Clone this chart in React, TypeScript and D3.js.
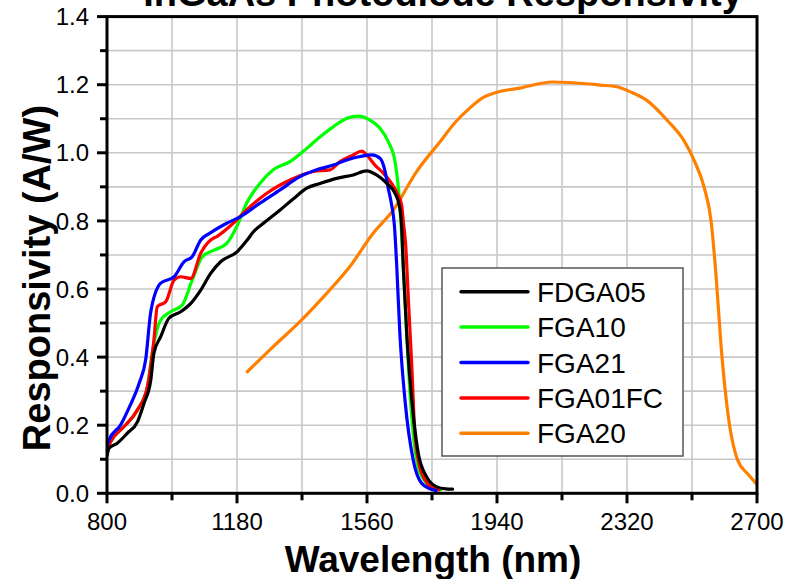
import React from "react";
import * as d3 from "d3";

const W = 802;
const H = 579;

const titleText = "InGaAs Photodiode Responsivity";
const xLabel = "Wavelength (nm)";
const yLabel = "Responsivity (A/W)";

const xTickValues = [800, 1180, 1560, 1940, 2320, 2700];
const yTickValues = [0, 0.2, 0.4, 0.6, 0.8, 1.0, 1.2, 1.4];

const seriesNames = ["FDGA05", "FGA10", "FGA21", "FGA01FC", "FGA20"];
const seriesColors = ["#000000", "#00ff00", "#0000ff", "#ff0000", "#ff8000"];

type P = [number, number];

const fdga05: P[] = [
  [800, 0.11], [806, 0.132], [830, 0.147], [859, 0.176], [889, 0.21], [908, 0.264],
  [928, 0.333], [937, 0.411], [957, 0.46], [981, 0.514], [1015, 0.533], [1045, 0.558],
  [1074, 0.597], [1103, 0.646], [1132, 0.68], [1181, 0.71], [1210, 0.744], [1228, 0.768],
  [1260, 0.795], [1306, 0.832], [1345, 0.865], [1384, 0.896], [1423, 0.91], [1471, 0.925],
  [1520, 0.935], [1559, 0.947], [1588, 0.935], [1618, 0.91], [1642, 0.881], [1654, 0.847],
  [1661, 0.788], [1666, 0.666], [1676, 0.47], [1691, 0.274], [1710, 0.117], [1734, 0.049],
  [1764, 0.019], [1790, 0.013], [1810, 0.012],
];

const fga10: P[] = [
  [803, 0.135], [811, 0.152], [850, 0.196], [889, 0.245], [918, 0.313], [932, 0.411],
  [957, 0.509], [986, 0.533], [1020, 0.553], [1049, 0.626], [1079, 0.695], [1113, 0.714],
  [1150, 0.734], [1179, 0.783], [1208, 0.852], [1247, 0.91], [1286, 0.95], [1335, 0.974],
  [1384, 1.013], [1423, 1.047], [1462, 1.077], [1500, 1.101], [1535, 1.108], [1569, 1.096],
  [1598, 1.072], [1622, 1.033], [1642, 0.974], [1651, 0.905], [1656, 0.847], [1661, 0.764],
  [1671, 0.568], [1681, 0.372], [1695, 0.176], [1715, 0.059], [1754, 0.015], [1776, 0.01],
];

const fga21: P[] = [
  [802, 0.145], [806, 0.157], [840, 0.201], [864, 0.25], [894, 0.323], [913, 0.392],
  [928, 0.533], [957, 0.617], [996, 0.636], [1025, 0.68], [1049, 0.695], [1074, 0.744],
  [1101, 0.764], [1150, 0.793], [1189, 0.812], [1247, 0.852], [1306, 0.891], [1364, 0.93],
  [1413, 0.95], [1462, 0.964], [1501, 0.979], [1540, 0.989], [1574, 0.994], [1598, 0.984],
  [1613, 0.945], [1622, 0.896], [1632, 0.847], [1640, 0.788], [1647, 0.666], [1656, 0.47],
  [1671, 0.274], [1695, 0.098], [1720, 0.029], [1754, 0.01], [1762, 0.008],
];

const fga01fc: P[] = [
  [803, 0.135], [811, 0.152], [850, 0.196], [889, 0.245], [918, 0.313], [937, 0.45],
  [947, 0.548], [972, 0.563], [996, 0.626], [1015, 0.636], [1045, 0.631], [1074, 0.705],
  [1103, 0.744], [1121, 0.754], [1169, 0.793], [1208, 0.832], [1267, 0.881], [1335, 0.92],
  [1403, 0.945], [1452, 0.95], [1481, 0.974], [1520, 0.994], [1544, 1.005], [1559, 0.994],
  [1583, 0.964], [1608, 0.94], [1632, 0.91], [1651, 0.876], [1661, 0.847], [1667, 0.79],
  [1673, 0.73], [1681, 0.568], [1691, 0.372], [1700, 0.176], [1720, 0.059], [1754, 0.015],
  [1770, 0.01],
];

const fga20: P[] = [
  [1210, 0.357], [1286, 0.431], [1364, 0.504], [1442, 0.587], [1510, 0.666], [1578, 0.764],
  [1637, 0.832], [1705, 0.945], [1773, 1.032], [1820, 1.092], [1861, 1.132], [1899, 1.162],
  [1940, 1.178], [2007, 1.19], [2101, 1.208], [2212, 1.202], [2241, 1.199], [2290, 1.194],
  [2330, 1.179], [2378, 1.154], [2438, 1.095], [2487, 1.035], [2517, 0.976], [2546, 0.897],
  [2566, 0.798], [2581, 0.63], [2595, 0.432], [2615, 0.234], [2644, 0.096], [2674, 0.056],
  [2700, 0.026],
];

const seriesData: P[][] = [fdga05, fga10, fga21, fga01fc, fga20];
const drawOrder = [4, 1, 3, 2, 0];

const FONT = "'Liberation Sans', Arial, sans-serif";

export default function App() {
  const left = 107, right = 757, top = 16.6, bottom = 493.3;
  const x = d3.scaleLinear().domain([800, 2700]).range([left, right]);
  const y = d3.scaleLinear().domain([0, 1.4]).range([bottom, top]);

  const xGrid = d3.range(800, 2701, 190);
  const yGrid = d3.range(0, 1.401, 0.1);

  const line = d3
    .line<P>()
    .x((d) => x(d[0]))
    .y((d) => y(d[1]))
    .curve(d3.curveMonotoneX);

  const fmt = d3.format(".1f");

  const legX = 442, legY = 268, legW = 241, legH = 188;
  const rowY0 = 291.7, rowStep = 35.4;

  return (
    <svg
      width={W}
      height={H}
      viewBox={`0 0 ${W} ${H}`}
      style={{ position: "absolute", left: 0, top: 0, background: "#fff" }}
      fontFamily={FONT}
    >
      <defs>
        <clipPath id="plotClip">
          <rect x={left} y={top} width={right - left} height={bottom - top} />
        </clipPath>
      </defs>
      <rect x={0} y={0} width={W} height={H} fill="#fff" />

      {/* grid */}
      <g stroke="#c8c8c8" strokeWidth={1.6}>
        {xGrid.map((v) => (
          <line key={"gx" + v} x1={x(v)} x2={x(v)} y1={top} y2={bottom} />
        ))}
        {yGrid.map((v, i) => (
          <line key={"gy" + i} x1={left} x2={right} y1={y(v)} y2={y(v)} />
        ))}
      </g>

      {/* series */}
      <g clipPath="url(#plotClip)" fill="none" strokeWidth={3.2} strokeLinejoin="round" strokeLinecap="round">
        {drawOrder.map((i) => (
          <path key={seriesNames[i]} d={line(seriesData[i]) || ""} stroke={seriesColors[i]} />
        ))}
      </g>

      {/* frame */}
      <rect x={left} y={top} width={right - left} height={bottom - top} fill="none" stroke="#000" strokeWidth={3} />

      {/* ticks */}
      <g stroke="#000" strokeWidth={3}>
        {xGrid.map((v) => {
          const major = xTickValues.indexOf(v) >= 0;
          return <line key={"tx" + v} x1={x(v)} x2={x(v)} y1={bottom} y2={bottom + (major ? 10 : 7)} />;
        })}
        {yGrid.map((v, i) => {
          const major = i % 2 === 0;
          return <line key={"ty" + i} x1={left - (major ? 10 : 7)} x2={left} y1={y(v)} y2={y(v)} />;
        })}
      </g>

      {/* tick labels */}
      <g fontSize={24} fill="#000">
        {xTickValues.map((v) => (
          <text key={"lx" + v} x={x(v)} y={530} textAnchor="middle">
            {String(v)}
          </text>
        ))}
        {yTickValues.map((v) => (
          <text key={"ly" + v} x={89} y={y(v) + 8.6} textAnchor="end">
            {fmt(v)}
          </text>
        ))}
      </g>

      {/* title (partly above the top edge, as in the reference) */}
      <text x={443} y={6} textAnchor="middle" fontSize={38} fontWeight="bold" fill="#000">
        {titleText}
      </text>

      {/* axis labels */}
      <text x={433} y={571.5} textAnchor="middle" fontSize={37} fontWeight="bold" fill="#000">
        {xLabel}
      </text>
      <text
        transform={`translate(50,278) rotate(-90)`}
        textAnchor="middle"
        fontSize={38}
        fontWeight="bold"
        fill="#000"
      >
        {yLabel}
      </text>

      {/* legend */}
      <rect x={legX} y={legY} width={legW} height={legH} fill="#fff" stroke="#555" strokeWidth={1.5} />
      {seriesNames.map((name, i) => {
        const ry = rowY0 + i * rowStep;
        return (
          <g key={"leg" + name}>
            <line x1={461} x2={528} y1={ry} y2={ry} stroke={seriesColors[i]} strokeWidth={3.5} strokeLinecap="round" />
            <text x={537} y={ry + 10} fontSize={28} fill="#000">
              {name}
            </text>
          </g>
        );
      })}
    </svg>
  );
}
